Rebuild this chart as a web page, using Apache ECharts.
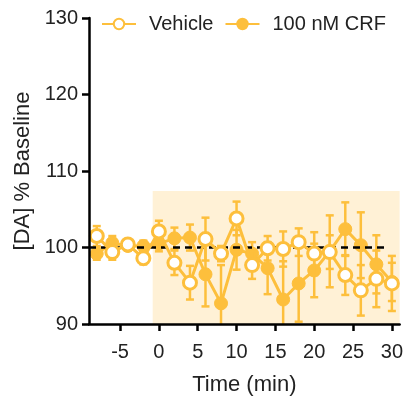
<!DOCTYPE html>
<html>
<head>
<meta charset="utf-8">
<script src="https://cdn.jsdelivr.net/npm/echarts@6/dist/echarts.min.js"></script>
<style>
  html, body { margin: 0; padding: 0; background: #fff; }
  #chart { width: 406px; height: 401px; }
</style>
</head>
<body>
<div id="chart"></div>
<script>
// time points (min)
const times = [-8, -6, -4, -2, 0, 2, 4, 6, 8, 10, 12, 14, 16, 18, 20, 22, 24, 26, 28, 30];
// Vehicle mean and SEM
const vehicleMean = [101.5, 99.4, 100.4, 98.6, 102.1, 98.0, 95.4, 101.1, 99.2, 103.8, 97.7, 99.9, 99.8, 100.7, 99.2, 99.4, 96.4, 94.4, 95.9, 95.3];
const vehicleErr = [1.3, 1.0, 0.6, 0.8, 1.4, 1.6, 2.2, 2.8, 1.0, 2.2, 1.8, 1.6, 2.3, 1.8, 2.8, 2.2, 2.6, 3.3, 3.7, 3.6];
// 100 nM CRF mean and SEM
const crfMean = [99.2, 100.6, 100.2, 100.2, 100.5, 101.2, 101.3, 96.5, 92.7, 99.7, 99.2, 97.3, 93.2, 95.3, 97.0, 99.5, 102.4, 100.3, 97.8, 95.5];
const crfErr = [0.8, 0.9, 0.6, 0.7, 1.0, 1.4, 1.7, 4.2, 5.0, 2.6, 1.5, 3.4, 5.0, 5.0, 3.5, 4.7, 3.5, 4.3, 3.8, 2.5];
// tick labels
const xTicks = [-5, 0, 5, 10, 15, 20, 25, 30];

const orange = '#FDBF3C';
const font = 'Liberation Sans, Arial, sans-serif';

const toPts = (mean) => times.map((t, i) => [t, mean[i]]);
const toErr = (mean, err) => times.map((t, i) => [t, mean[i], err[i]]);

// error bar with caps
function renderErr(params, api) {
  const x = api.value(0);
  const m = api.value(1);
  const e = api.value(2);
  const top = api.coord([x, m + e]);
  const bot = api.coord([x, m - e]);
  const cap = 4;
  const style = { stroke: orange, lineWidth: 2.5 };
  return {
    type: 'group',
    children: [
      { type: 'line', shape: { x1: top[0], y1: top[1], x2: bot[0], y2: bot[1] }, style },
      { type: 'line', shape: { x1: top[0] - cap, y1: top[1], x2: top[0] + cap, y2: top[1] }, style },
      { type: 'line', shape: { x1: bot[0] - cap, y1: bot[1], x2: bot[0] + cap, y2: bot[1] }, style }
    ]
  };
}

const chart = echarts.init(document.getElementById('chart'));
chart.setOption({
  animation: false,
  grid: { left: 89, right: 6, top: 18, bottom: 77 },
  legend: {
    top: 9,
    left: 96,
    itemWidth: 34,
    itemHeight: 13,
    itemGap: 11,
    textStyle: { fontFamily: font, fontSize: 20, color: '#222', padding: [0, 0, 0, 8] },
    data: ['Vehicle', '100 nM CRF']
  },
  xAxis: {
    type: 'value',
    min: -9,
    max: 31,
    z: 10,
    name: 'Time (min)',
    nameLocation: 'middle',
    nameGap: 50,
    nameTextStyle: { fontFamily: font, fontSize: 22, color: '#222' },
    splitLine: { show: false },
    axisLine: { onZero: false, lineStyle: { color: '#000', width: 2.5 } },
    axisTick: { length: 7, lineStyle: { color: '#000', width: 2.5 }, customValues: xTicks },
    axisLabel: { fontFamily: font, fontSize: 20, color: '#222', margin: 18, customValues: xTicks }
  },
  yAxis: {
    type: 'value',
    min: 90,
    max: 130,
    interval: 10,
    z: 10,
    name: '[DA] % Baseline',
    nameLocation: 'middle',
    nameGap: 55,
    nameTextStyle: { fontFamily: font, fontSize: 22, color: '#222' },
    splitLine: { show: false },
    axisLine: { show: true, onZero: false, lineStyle: { color: '#000', width: 2.5 } },
    axisTick: { show: true, length: 7, lineStyle: { color: '#000', width: 2.5 } },
    axisLabel: { fontFamily: font, fontSize: 20, color: '#222', margin: 11 }
  },
  series: [
    {
      type: 'line',
      name: 'baseline',
      data: [],
      silent: true,
      markArea: {
        silent: true,
        itemStyle: { color: '#FFF1D6' },
        data: [[{ coord: [-0.8, 90] }, { coord: [31, 107.4] }]]
      },
      markLine: {
        silent: true,
        symbol: 'none',
        label: { show: false },
        lineStyle: { color: '#000', width: 2.5, type: [7, 5] },
        data: [[{ coord: [-9, 100] }, { coord: [29.5, 100] }]]
      },
      z: 1
    },
    {
      type: 'custom',
      name: 'crfErr',
      renderItem: renderErr,
      data: toErr(crfMean, crfErr),
      clip: true,
      z: 2
    },
    {
      type: 'line',
      name: '100 nM CRF',
      data: toPts(crfMean),
      symbol: 'circle',
      symbolSize: 13,
      lineStyle: { color: orange, width: 3 },
      itemStyle: { color: orange, borderColor: orange, borderWidth: 1 },
      z: 3
    },
    {
      type: 'custom',
      name: 'vehicleErr',
      renderItem: renderErr,
      data: toErr(vehicleMean, vehicleErr),
      clip: true,
      z: 4
    },
    {
      type: 'line',
      name: 'Vehicle',
      data: toPts(vehicleMean),
      symbol: 'circle',
      symbolSize: 13,
      showAllSymbol: true,
      lineStyle: { color: orange, width: 3 },
      itemStyle: { color: '#fff', borderColor: orange, borderWidth: 3 },
      z: 5
    }
  ]
});
</script>
</body>
</html>
